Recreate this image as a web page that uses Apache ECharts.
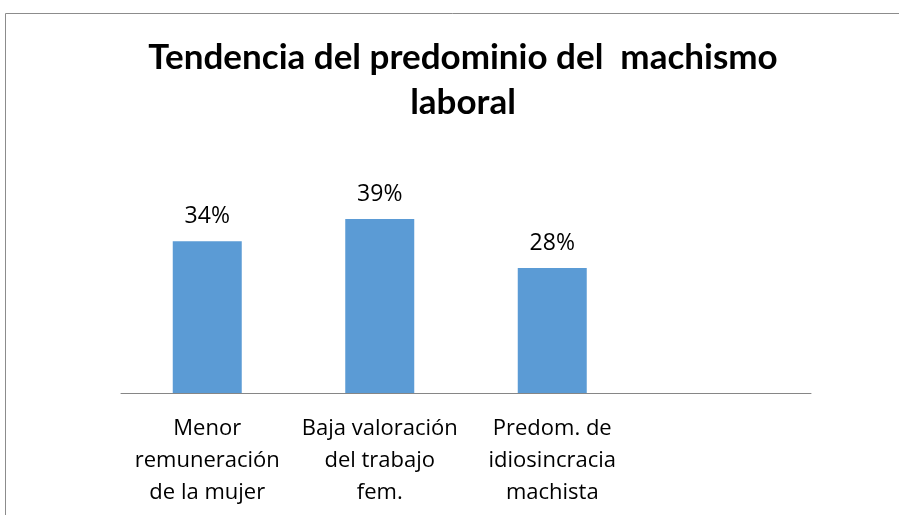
<!DOCTYPE html>
<html>
<head>
<meta charset="utf-8">
<script src="https://cdn.jsdelivr.net/npm/echarts@6/dist/echarts.min.js"></script>
<style>
html,body{margin:0;padding:0;background:#fff;}
#main{width:899px;height:515px;}
</style>
</head>
<body>
<div id="main"></div>
<script>
// datos del grafico
let categorias = ['Menor\nremuneración\nde la mujer', 'Baja valoración\ndel trabajo\nfem.', 'Predom. de\nidiosincracia\nmachista', ''];
let valores = [0.34, 0.39, 0.28, null];
let titulo = 'Tendencia del predominio del  machismo\nlaboral';

let myChart = echarts.init(document.getElementById('main'));
let option = {
    animation: false,
    title: {
        text: titulo,
        left: 458,
        textAlign: 'center',
        top: 30,
        textStyle: {
            fontFamily: 'Lato',
            fontWeight: 'bold',
            fontSize: 35,
            lineHeight: 45,
            color: '#000'
        }
    },
    graphic: [{
        type: 'rect',
        shape: {x: 5.5, y: 13.5, width: 1000, height: 600},
        style: {fill: 'none', stroke: '#8c8c8c', lineWidth: 1},
        silent: true
    }],
    grid: {
        left: 121,
        right: 88,
        top: 170,
        bottom: 122,
        containLabel: false
    },
    xAxis: {
        type: 'category',
        data: categorias,
        axisLine: {show: true, lineStyle: {color: '#868686', width: 1}},
        axisTick: {show: false},
        axisLabel: {
            interval: 0,
            margin: 20,
            fontFamily: 'Open Sans',
            fontSize: 22,
            lineHeight: 32,
            color: '#000'
        }
    },
    yAxis: {
        type: 'value',
        min: 0,
        max: 0.5,
        show: false,
        splitLine: {show: false}
    },
    series: [{
        type: 'bar',
        data: valores,
        barWidth: '40%',
        itemStyle: {color: '#5B9BD5'},
        label: {
            show: true,
            position: 'top',
            distance: 13,
            fontFamily: 'Open Sans',
            fontSize: 23,
            color: '#000',
            formatter: function (p) {
                return Math.round(p.value * 100) + '%';
            }
        }
    }]
};
myChart.setOption(option);
</script>
</body>
</html>
